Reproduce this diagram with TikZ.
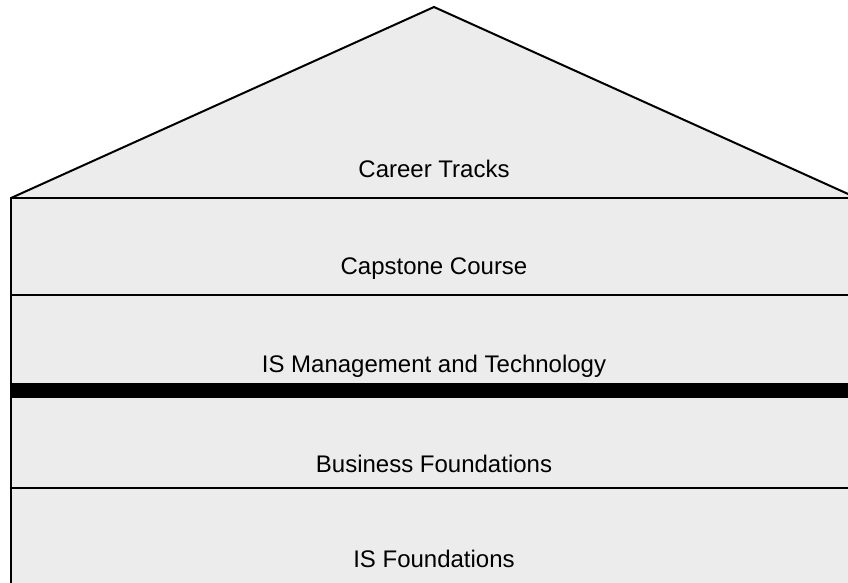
\documentclass[tikz,border=0pt]{standalone}
\usepackage{fontspec}
\setmainfont{Liberation Sans}
\usetikzlibrary{calc}
\definecolor{housegray}{RGB}{236,236,236}

\begin{document}
\begin{tikzpicture}[x=1pt,y=-1pt,
    wall/.style={line width=2pt},
    layer/.style={anchor=base,font=\fontsize{24}{28}\selectfont}]
      \useasboundingbox (0,0) rectangle (848,582);

      % Corners of the house
      \coordinate (apex) at (434,7);
      \coordinate (eaveL) at (11,198);
      \coordinate (eaveR) at (857,198);
      \coordinate (footL) at (11,600);
      \coordinate (footR) at (857,600);

      % Filling the house
      \fill[housegray] (eaveL) -- (apex) -- (eaveR) -- (footR) -- (footL) -- cycle;

      % Drawing the roof and the walls
      \draw[wall,line join=miter] (eaveL) -- (apex) -- (eaveR);
      \draw[wall] (footL) -- (eaveL) -- (eaveR) -- (footR);

      % Drawing the floors
      \draw[wall] (11,295) -- (857,295);
      \fill[black] (11,383) rectangle (857,398);
      \draw[wall] (11,488) -- (857,488);

      % Labels of the layers
      \node[layer] (careertracks) at (434,177) {Career Tracks};
      \node[layer] (capstone) at (434,274) {Capstone Course};
      \node[layer] (ismgmt) at (434,372) {IS Management and Technology};
      \node[layer] (busfound) at (434,472) {Business Foundations};
      \node[layer] (isfound) at (434,567) {IS Foundations};
    \end{tikzpicture}
\end{document}
